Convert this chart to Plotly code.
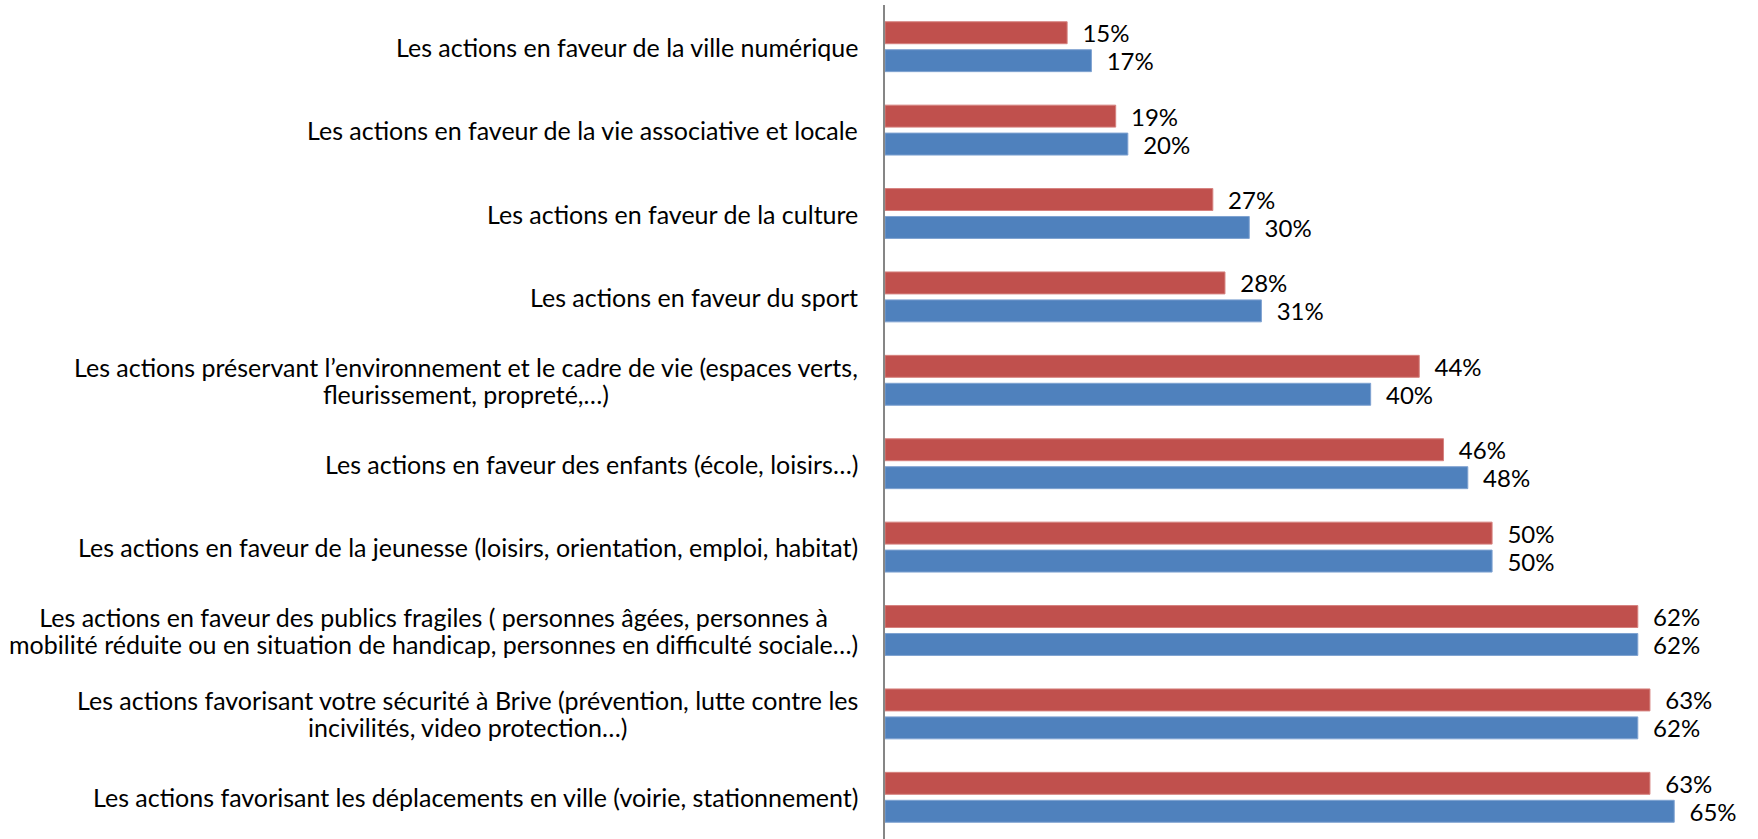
import plotly.graph_objects as go

categories = [
    "Les actions en faveur de la ville numérique",
    "Les actions en faveur de la vie associative et locale",
    "Les actions en faveur de la culture",
    "Les actions en faveur du sport",
    "Les actions préservant l’environnement et le cadre de vie (espaces verts,<br>fleurissement, propreté,…)",
    "Les actions en faveur des enfants (école, loisirs…)",
    "Les actions en faveur de la jeunesse (loisirs, orientation, emploi, habitat)",
    "Les actions en faveur des publics fragiles ( personnes âgées, personnes à<br>mobilité réduite ou en situation de handicap, personnes en difficulté sociale…)",
    "Les actions favorisant votre sécurité à Brive (prévention, lutte contre les<br>incivilités, video protection…)",
    "Les actions favorisant les déplacements en ville (voirie, stationnement)",
]
red_values = [15, 19, 27, 28, 44, 46, 50, 62, 63, 63]
blue_values = [17, 20, 30, 31, 40, 48, 50, 62, 62, 65]

RED = "#C0504D"
BLUE = "#4F81BD"
FONT = "Lato, 'Open Sans', sans-serif"
PAD = "\u00a0\u00a0"

fig = go.Figure()
for vals, color, edge, name in [
    (red_values, RED, "#D6827F", "Série 1"),
    (blue_values, BLUE, "#7FA2D1", "Série 2"),
]:
    fig.add_trace(go.Bar(
        y=categories, x=vals, orientation="h", name=name,
        marker=dict(color=color, line=dict(color=edge, width=1)),
        text=[f"{PAD}{v}%" for v in vals], textposition="outside",
        constraintext="none",
        textfont=dict(family=FONT, size=24, color="#000000"),
        cliponaxis=False, hoverinfo="x+y",
    ))


def label_html(c):
    return "<br>".join(
        f"<span style='font-size:25px'>{line}</span>" for line in c.split("<br>")
    )


annotations = [
    dict(
        x=0, xref="paper", xanchor="right", xshift=-25,
        y=c, yref="y", yanchor="middle",
        text=label_html(c), showarrow=False, align="center",
        font=dict(family=FONT, size=21, color="#000000"),
    )
    for c in categories
]

fig.update_layout(
    width=1758, height=839,
    margin=dict(l=885, r=0, t=5, b=0, pad=0),
    paper_bgcolor="white", plot_bgcolor="white",
    barmode="group", bargap=0.33, bargroupgap=0.214,
    showlegend=False,
    annotations=annotations,
    xaxis=dict(range=[0, 71.9], showgrid=False, zeroline=False,
               showticklabels=False, showline=False, ticks=""),
    yaxis=dict(autorange="reversed", showgrid=False, zeroline=False,
               showticklabels=False, ticks="", showline=True,
               linecolor="#868686", linewidth=2),
)

fig.write_html("out.html")
